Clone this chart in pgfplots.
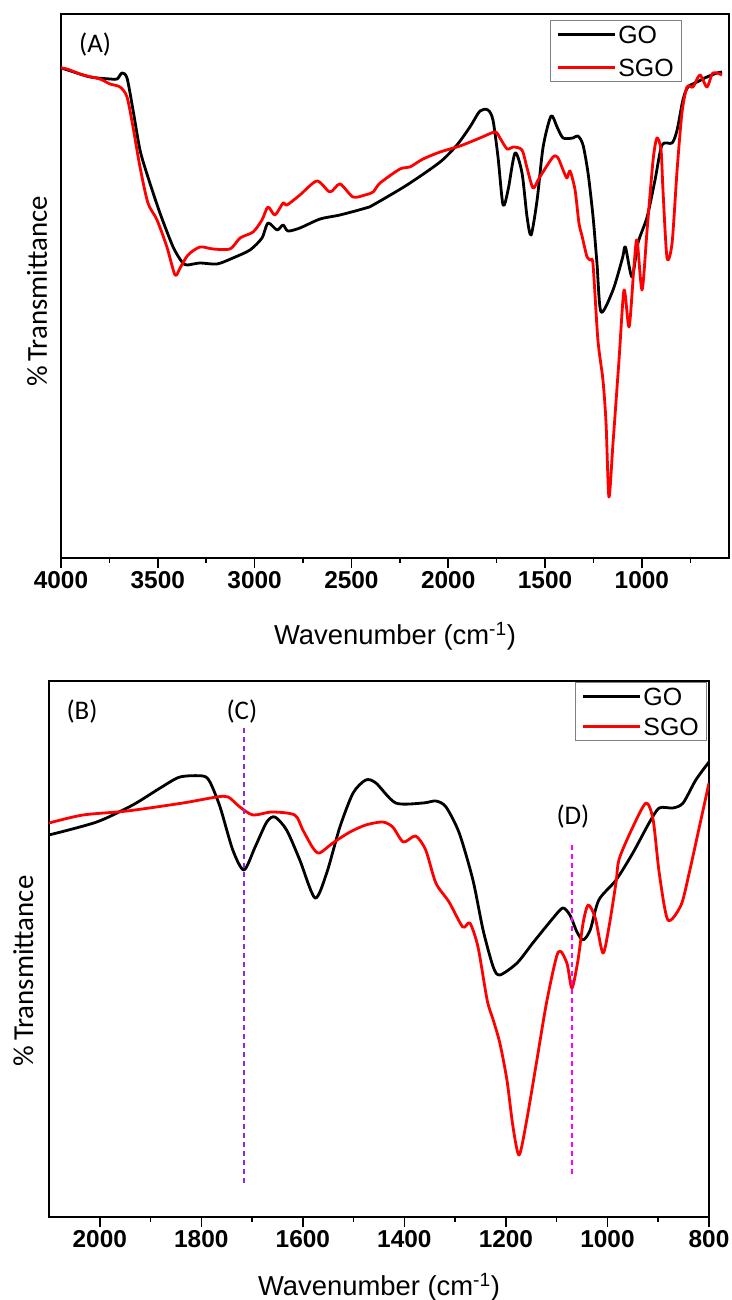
\documentclass[border=0pt]{standalone}
\usepackage{fontspec}
\setmainfont{Liberation Sans}
\newfontfamily\carlito{Carlito}
\usepackage{pgfplots}
\usepackage{pgfplotstable}
\pgfplotsset{compat=1.18}
\definecolor{cviolet}{RGB}{138,43,226}
\definecolor{dmag}{RGB}{255,0,255}
\definecolor{sred}{RGB}{255,0,0}

\pgfplotstableread{
w h
4000 490
3950 487
3850 481
3747 479
3710 479
3685 485
3659 480
3628 448
3592 408
3551 381
3489 345
3421 311
3375 296
3349 293
3282 295
3194 294
3112 300
3024 308
2962 320
2931 335
2884 328
2853 333
2828 327
2766 330
2662 339
2559 343
2425 350
2388 353
2213 373
2042 396
1955 413
1888 431
1836 447
1795 448
1769 438
1743 401
1717 353
1691 368
1655 405
1619 385
1593 341
1572 323
1541 358
1510 411
1469 442
1438 431
1407 420
1356 420
1330 422
1304 413
1278 385
1252 341
1232 295
1211 246
1149 268
1100 300
1085 311
1051 281
1020 315
973 341
932 378
896 413
844 415
818 428
788 458
762 471
715 476
664 481
612 485
586 486
}\goA

\pgfplotstableread{
w h
4000 490
3969 489
3886 483
3799 479
3747 474
3695 471
3659 461
3628 431
3592 391
3551 355
3504 338
3453 311
3411 283
3385 290
3344 303
3282 311
3215 309
3127 309
3075 320
3008 326
2962 338
2931 351
2895 343
2853 355
2833 353
2766 363
2678 377
2611 366
2559 374
2492 361
2430 363
2388 366
2352 375
2249 389
2198 391
2130 399
2042 406
1939 412
1836 420
1758 426
1733 420
1696 409
1665 411
1619 408
1593 390
1562 370
1530 380
1459 401
1433 400
1407 388
1387 380
1371 387
1345 368
1325 335
1309 322
1283 301
1265 298
1252 293
1227 218
1201 178
1185 135
1170 61
1149 115
1118 198
1092 268
1066 231
1041 291
1025 318
999 268
973 328
942 398
922 420
901 408
891 368
870 300
844 315
818 388
793 445
767 471
736 471
700 483
664 471
633 485
586 483
}\sgoA

\pgfplotstableread{
w h
2100 382
2006 395
1935 412
1881 429
1842 440
1797 441
1783 435
1763 410
1738 367
1716 347
1694 370
1671 395
1655 400
1632 387
1606 357
1576 319
1553 344
1527 390
1501 424
1476 437
1456 434
1417 414
1363 414
1338 416
1318 410
1292 384
1265 337
1245 287
1225 250
1212 242
1178 254
1147 274
1107 299
1088 309
1074 302
1060 285
1048 277
1034 287
1017 317
983 337
950 364
918 394
898 409
871 409
851 414
826 437
800 455
}\goB

\pgfplotstableread{
w h
2100 394
2033 402
1946 406
1836 414
1770 420
1747 420
1724 410
1698 402
1661 405
1616 402
1600 387
1580 369
1567 364
1541 374
1507 385
1476 392
1443 395
1423 390
1402 375
1378 381
1358 367
1338 334
1312 315
1285 290
1271 294
1255 270
1237 217
1225 197
1212 174
1198 137
1186 90
1174 62
1159 97
1139 157
1119 217
1097 265
1080 254
1070 229
1058 257
1048 294
1038 312
1024 299
1009 264
997 290
983 335
977 358
950 390
924 414
910 397
898 344
881 297
855 312
839 344
819 390
800 434
}\sgoB

\pgfplotsset{
 ftir/.style={
  scale only axis,
  axis line style={line width=1.5bp},
  x dir=reverse,
  ytick=\empty,
  tick align=outside,
  xtick pos=bottom,
  major tick length=10bp,
  minor tick length=5bp,
  every tick/.style={black, line width=1.5bp},
  tick label style={font=\fontsize{24.5}{24.5}\selectfont\bfseries},
  /pgf/number format/assume math mode=true,
  /pgf/number format/1000 sep={},
  xlabel={Wavenumber (cm\textsuperscript{-1})},
  ylabel={\%\,Transmittance},
  xlabel style={font=\fontsize{27.5}{27.5}\selectfont},
  ylabel style={font=\fontsize{29}{29}\selectfont\carlito, anchor=center},
  legend cell align=left,
  legend image code/.code={\draw[##1, line width=3bp] (0bp,0bp) -- (57bp,0bp);},
  legend style={draw=gray, line width=0.8bp, font=\fontsize{25}{25}\selectfont, anchor=north west,
    inner xsep=6bp, inner ysep=3bp, row sep=11bp,
    nodes={inner sep=2bp, text height=18bp, text depth=0bp}},
  every axis plot/.append style={line width=2.8bp, line join=round, smooth, tension=0.45},
  clip=true,
 }
}

\begin{document}
\begin{tikzpicture}
\path[use as bounding box] (0bp,0bp) rectangle (732bp,1300bp);
% Panel A
\begin{axis}[ftir,
  at={(61bp,742bp)}, anchor=south west,
  width=668bp, height=544bp,
  xmin=550, xmax=4000, ymin=0, ymax=544,
  xtick={1000,1500,2000,2500,3000,3500,4000},
  minor xtick={750,1250,1750,2250,2750,3250,3750},
  xlabel style={at={(axis description cs:0.5,0)}, anchor=base, yshift=-87bp},
  ylabel style={at={(axis description cs:-0.036,0.49)}},
  legend style={at={(0.732,0.989)}},
]
\addplot[black] table[x=w,y=h] {\goA};
\addlegendentry{GO}
\addplot[sred] table[x=w,y=h] {\sgoA};
\addlegendentry{SGO}
\node[font=\fontsize{27}{27}\selectfont\carlito] at (axis cs:3824,513) {(A)};
\end{axis}
% Panel B
\begin{axis}[ftir,
  at={(49bp,83bp)}, anchor=south west,
  width=660bp, height=536bp,
  xmin=800, xmax=2100, ymin=0, ymax=536,
  xtick={800,1000,1200,1400,1600,1800,2000},
  minor xtick={900,1100,1300,1500,1700,1900},
  xlabel style={at={(axis description cs:0.5,0)}, anchor=base, yshift=-78bp},
  ylabel style={at={(axis description cs:-0.039,0.459)}},
  legend style={at={(0.797,0.998)}, row sep=8bp},
]
\addplot[black] table[x=w,y=h] {\goB};
\addlegendentry{GO}
\addplot[sred] table[x=w,y=h] {\sgoB};
\addlegendentry{SGO}
\addplot[cviolet, line width=2.2bp, sharp plot, dash pattern=on 5bp off 4bp, forget plot] coordinates {(1716,489) (1716,32)};
\addplot[dmag, line width=2.2bp, sharp plot, dash pattern=on 5bp off 4bp, forget plot] coordinates {(1070,372) (1070,39)};
\node[font=\fontsize{27}{27}\selectfont\carlito] at (axis cs:2035,505) {(B)};
\node[font=\fontsize{27}{27}\selectfont\carlito] at (axis cs:1720,505) {(C)};
\node[font=\fontsize{27}{27}\selectfont\carlito] at (axis cs:1068,400) {(D)};
\end{axis}
\end{tikzpicture}
\end{document}
